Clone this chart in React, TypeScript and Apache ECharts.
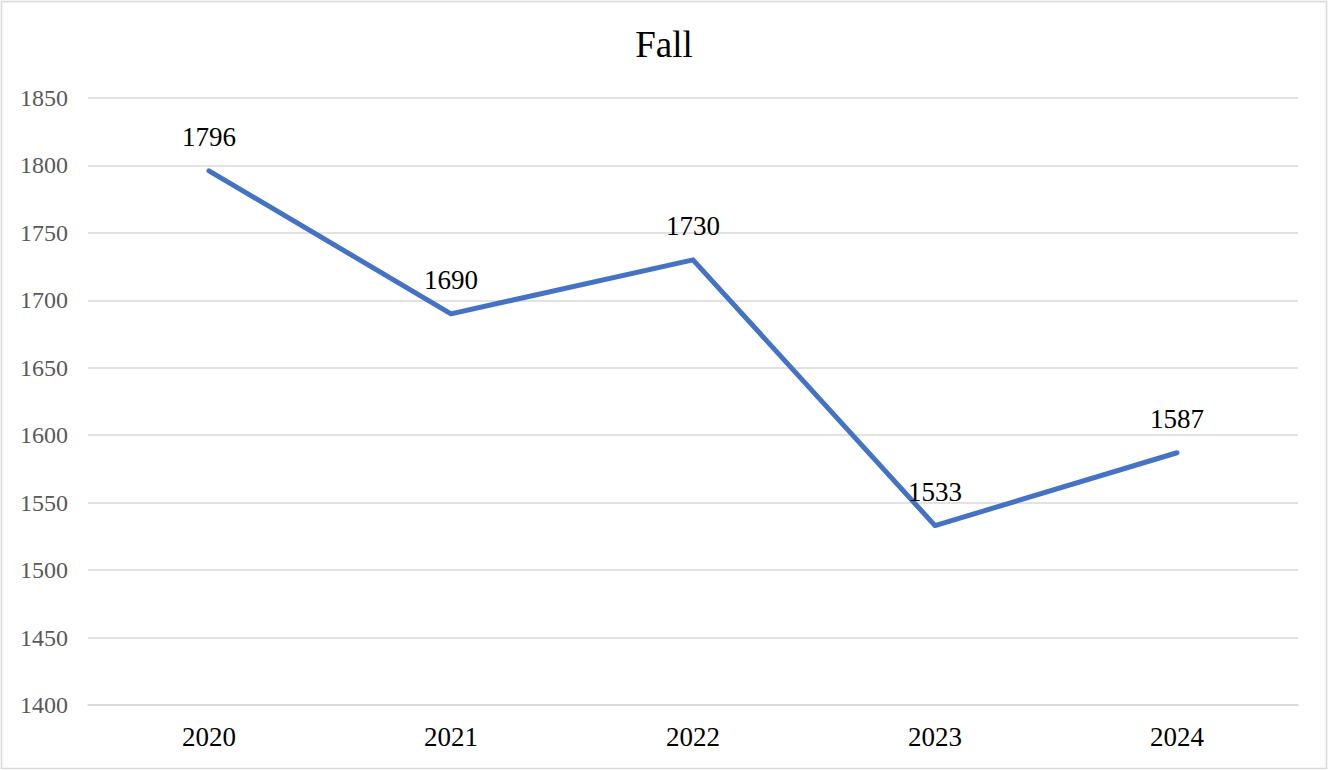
import React, { useEffect, useRef } from "react";
import * as echarts from "echarts";

const categories = ["2020", "2021", "2022", "2023", "2024"];
const values = [1796, 1690, 1730, 1533, 1587];
const yMin = 1400;
const yMax = 1850;
const yInterval = 50;
const title = "Fall";

const FONT = "Liberation Serif";

export default function App() {
  const ref = useRef<HTMLDivElement>(null);
  useEffect(() => {
    if (!ref.current) return;
    const chart = echarts.init(ref.current, undefined, { renderer: "svg" });
    chart.setOption({
      animation: false,
      backgroundColor: "#ffffff",
      textStyle: { fontFamily: FONT },
      title: {
        text: title,
        left: "center",
        top: 21,
        textStyle: { fontFamily: FONT, fontSize: 37, fontWeight: "normal", color: "#000000" },
      },
      graphic: [
        {
          type: "rect",
          shape: { x: 1.5, y: 1.5, width: 1325, height: 767 },
          style: { fill: "none", stroke: "#d9d9d9", lineWidth: 1.5 },
          silent: true,
        },
      ],
      grid: { left: 88, right: 30, top: 98, bottom: 65 },
      xAxis: {
        type: "category",
        data: categories,
        boundaryGap: true,
        axisLine: { show: true, lineStyle: { color: "#d9d9d9", width: 1.5 } },
        axisTick: { show: false },
        axisLabel: { color: "#000000", fontSize: 27, fontFamily: FONT, margin: 18 },
      },
      yAxis: {
        type: "value",
        min: yMin,
        max: yMax,
        interval: yInterval,
        axisLine: { show: false },
        axisTick: { show: false },
        splitLine: { lineStyle: { color: "#d9d9d9", width: 1.5 } },
        axisLabel: {
          color: "#595959",
          fontSize: 24,
          fontFamily: FONT,
          margin: 20,
          formatter: (v: number) => String(v),
        },
      },
      series: [
        {
          type: "line",
          data: values,
          symbol: "circle",
          symbolSize: 0,
          showSymbol: true,
          lineStyle: { color: "#4472C4", width: 5, cap: "round", join: "round" },
          itemStyle: { color: "#4472C4" },
          label: {
            show: true,
            position: "top",
            distance: 20,
            color: "#000000",
            fontSize: 27,
            fontFamily: FONT,
          },
        },
      ],
    });
    return () => chart.dispose();
  }, []);
  return (
    <div
      ref={ref}
      style={{ position: "absolute", left: 0, top: 0, width: 1328, height: 770 }}
    />
  );
}
